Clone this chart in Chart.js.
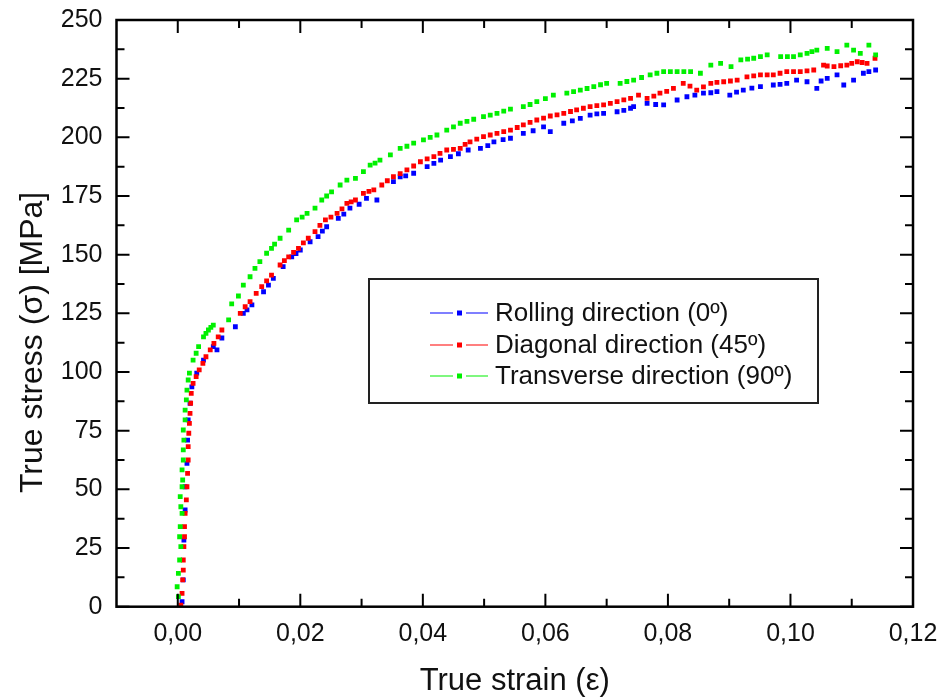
<!DOCTYPE html>
<html>
<head>
<meta charset="utf-8">
<script src="https://cdn.jsdelivr.net/npm/chart.js@4/dist/chart.umd.min.js"></script>
<style>
  body { margin: 0; background: #fff; }
</style>
</head>
<body>
<canvas id="myChart" width="942" height="700"></canvas>
<script>
// axis ticks
var xMajor = [0, 0.02, 0.04, 0.06, 0.08, 0.10, 0.12];
var xMinor = [0.01, 0.03, 0.05, 0.07, 0.09, 0.11];
var yMajor = [0, 25, 50, 75, 100, 125, 150, 175, 200, 225, 250];
var yMinor = [12.5, 37.5, 62.5, 87.5, 112.5, 137.5, 162.5, 187.5, 212.5, 237.5];

var seriesLabels = ['Rolling direction (0º)', 'Diagonal direction (45º)', 'Transverse direction (90º)'];
var seriesColors = ['#0000ff', '#ff0000', '#00f000'];

// [true strain, true stress MPa]
var rolling = [
  [0.0007, 2.1], [0.0009, 11.4], [0.0010, 28.4], [0.0012, 41.2], [0.0012, 51.1], [0.0015, 61.1],
  [0.0016, 71.0], [0.0017, 79.6], [0.0020, 86.7], [0.0023, 93.7], [0.0031, 99.5], [0.0042, 105.1],
  [0.0058, 110.8], [0.0064, 109.4], [0.0072, 114.5], [0.0094, 119.3], [0.0107, 125.0], [0.0121, 128.6],
  [0.0140, 134.2], [0.0156, 139.9], [0.0172, 144.9], [0.0186, 149.1], [0.0200, 152.0], [0.0216, 155.5],
  [0.0229, 157.7], [0.0243, 161.9], [0.0262, 165.5], [0.0281, 169.8], [0.0308, 174.0], [0.0325, 173.3],
  [0.0352, 181.1], [0.0363, 183.2], [0.0385, 184.7], [0.0407, 187.5], [0.0429, 190.3], [0.0445, 191.8],
  [0.0474, 194.6], [0.0494, 195.3], [0.0516, 198.1], [0.0543, 199.6], [0.0564, 201.7], [0.0597, 204.5],
  [0.0608, 202.4], [0.0630, 206.0], [0.0657, 208.1], [0.0673, 209.5], [0.0695, 210.2], [0.0717, 210.9],
  [0.0739, 212.4], [0.0744, 213.1], [0.0766, 214.5], [0.0793, 213.8], [0.0815, 215.9], [0.0831, 217.3],
  [0.0858, 218.8], [0.0880, 219.5], [0.0901, 218.0], [0.0923, 220.1], [0.0951, 221.6], [0.0972, 222.3],
  [0.0994, 223.0], [0.1010, 224.4], [0.1027, 223.7], [0.1043, 220.9], [0.1060, 225.1], [0.1076, 226.6],
  [0.1087, 222.3], [0.1103, 224.4], [0.1119, 227.3], [0.1139, 228.7],
  [0.0113, 126.5], [0.0148, 137.0], [0.0193, 150.5], [0.0236, 160.0], [0.0271, 167.3], [0.0296, 171.5],
  [0.0372, 183.6], [0.0418, 188.9], [0.0458, 193.0], [0.0506, 196.5], [0.0531, 199.0], [0.0580, 202.8],
  [0.0644, 207.0], [0.0684, 210.0], [0.0728, 211.5], [0.0780, 214.0], [0.0844, 218.0], [0.0870, 219.0],
  [0.0912, 219.3], [0.0937, 221.0], [0.0983, 222.6], [0.1050, 224.0], [0.1128, 228.0]
];

var diagonal = [
  [0.0005, 0.7], [0.0007, 5.7], [0.0008, 11.4], [0.0009, 15.6], [0.0009, 19.9], [0.0010, 25.6],
  [0.0011, 29.8], [0.0011, 34.1], [0.0012, 39.8], [0.0014, 45.5], [0.0015, 51.1], [0.0016, 56.8],
  [0.0017, 62.5], [0.0017, 68.2], [0.0018, 73.9], [0.0019, 78.1], [0.0020, 82.4], [0.0021, 86.7],
  [0.0022, 90.9], [0.0025, 95.2], [0.0030, 98.0], [0.0035, 100.9], [0.0041, 103.7], [0.0046, 106.5],
  [0.0053, 109.4], [0.0059, 112.2], [0.0066, 115.0], [0.0072, 117.9], [0.0102, 125.0], [0.0118, 130.0],
  [0.0137, 136.4], [0.0153, 141.3], [0.0167, 145.6], [0.0181, 149.1], [0.0197, 152.7], [0.0213, 157.0],
  [0.0224, 159.8], [0.0241, 164.8], [0.0260, 167.6], [0.0276, 171.9], [0.0290, 173.3], [0.0303, 176.1],
  [0.0320, 177.6], [0.0333, 179.7], [0.0352, 183.2], [0.0374, 186.1], [0.0396, 189.6], [0.0418, 191.8],
  [0.0439, 194.6], [0.0461, 195.3], [0.0477, 198.1], [0.0499, 200.3], [0.0521, 201.7], [0.0543, 203.1],
  [0.0564, 205.3], [0.0586, 207.4], [0.0608, 209.1], [0.0630, 210.2], [0.0651, 211.7], [0.0673, 213.1],
  [0.0695, 213.8], [0.0717, 215.2], [0.0739, 216.6], [0.0752, 218.0], [0.0766, 216.6], [0.0787, 218.8],
  [0.0809, 220.9], [0.0825, 223.0], [0.0847, 220.1], [0.0870, 223.0], [0.0891, 223.7], [0.0913, 224.4],
  [0.0929, 225.8], [0.0951, 226.6], [0.0972, 226.6], [0.0994, 228.0], [0.1016, 228.0], [0.1038, 228.7],
  [0.1054, 230.8], [0.1071, 230.1], [0.1092, 230.8], [0.1109, 232.2], [0.1125, 231.5], [0.1138, 233.7],
  [0.0110, 127.8], [0.0128, 133.5], [0.0145, 138.8], [0.0174, 147.5], [0.0189, 151.0], [0.0205, 155.0],
  [0.0232, 162.5], [0.0250, 166.0], [0.0268, 169.5], [0.0283, 172.5], [0.0312, 177.0], [0.0342, 181.5],
  [0.0363, 184.5], [0.0385, 187.8], [0.0407, 190.8], [0.0428, 193.2], [0.0450, 194.9], [0.0469, 197.0],
  [0.0488, 199.2], [0.0510, 201.0], [0.0532, 202.4], [0.0554, 204.2], [0.0575, 206.4], [0.0597, 208.2],
  [0.0619, 209.6], [0.0641, 211.0], [0.0662, 212.4], [0.0684, 213.5], [0.0706, 214.5], [0.0728, 216.0],
  [0.0777, 217.6], [0.0798, 219.6], [0.0836, 221.8], [0.0858, 221.5], [0.0880, 223.4], [0.0902, 224.0],
  [0.0940, 226.2], [0.0962, 226.6], [0.0983, 227.3], [0.1005, 228.0], [0.1027, 228.3], [0.1060, 230.4],
  [0.1082, 230.5], [0.1100, 231.5], [0.1117, 231.9]
];

var transverse = [
  [0.0001, 4.3], [-0.0001, 8.5], [0.0001, 14.2], [0.0003, 19.9], [0.0005, 25.6], [0.0003, 29.8],
  [0.0004, 34.1], [0.0007, 39.8], [0.0005, 42.6], [0.0004, 46.9], [0.0007, 51.1], [0.0008, 54.0],
  [0.0007, 58.3], [0.0009, 62.5], [0.0009, 66.8], [0.0010, 71.0], [0.0009, 75.3], [0.0012, 79.6],
  [0.0012, 83.8], [0.0014, 88.1], [0.0015, 92.3], [0.0017, 96.6], [0.0019, 99.5], [0.0025, 105.1],
  [0.0034, 110.8], [0.0042, 115.0], [0.0050, 117.9], [0.0058, 120.0], [0.0083, 122.2], [0.0088, 129.0],
  [0.0099, 132.4], [0.0107, 137.0], [0.0118, 140.6], [0.0126, 144.2], [0.0134, 147.0], [0.0145, 150.6],
  [0.0153, 152.7], [0.0167, 157.0], [0.0181, 160.5], [0.0194, 164.8], [0.0211, 167.6], [0.0224, 169.8],
  [0.0235, 173.3], [0.0251, 176.8], [0.0265, 179.7], [0.0276, 181.8], [0.0290, 182.5], [0.0303, 185.4],
  [0.0314, 188.2], [0.0330, 190.3], [0.0347, 192.5], [0.0363, 195.3], [0.0385, 197.5], [0.0401, 198.9],
  [0.0423, 201.0], [0.0439, 203.1], [0.0461, 206.0], [0.0483, 207.7], [0.0499, 208.8], [0.0521, 210.2],
  [0.0543, 212.0], [0.0564, 213.1], [0.0586, 215.2], [0.0613, 218.0], [0.0635, 218.8], [0.0657, 220.1],
  [0.0679, 221.6], [0.0700, 223.0], [0.0722, 223.0], [0.0744, 224.4], [0.0771, 226.6], [0.0793, 228.0],
  [0.0815, 228.0], [0.0837, 228.0], [0.0853, 227.3], [0.0870, 230.8], [0.0886, 231.5], [0.0903, 230.1],
  [0.0919, 233.0], [0.0940, 233.7], [0.0962, 235.1], [0.0984, 234.4], [0.1005, 234.4], [0.1027, 235.8],
  [0.1043, 237.2], [0.1060, 237.9], [0.1076, 236.5], [0.1092, 239.3], [0.1103, 237.2], [0.1114, 235.8],
  [0.1128, 239.3], [0.1139, 235.1],
  [0.0030, 108.0], [0.0046, 116.5], [0.0054, 119.0], [0.0158, 154.5], [0.0203, 166.0], [0.0243, 175.0],
  [0.0322, 189.0], [0.0374, 196.2], [0.0412, 200.0], [0.0450, 204.5], [0.0472, 206.8], [0.0510, 209.5],
  [0.0532, 211.2], [0.0575, 214.0], [0.0600, 216.5], [0.0646, 219.5], [0.0668, 220.8], [0.0690, 222.4],
  [0.0733, 223.8], [0.0757, 225.5], [0.0782, 227.3], [0.0804, 228.0], [0.0826, 228.0], [0.0930, 233.3],
  [0.0951, 234.4], [0.0995, 234.4], [0.1016, 235.1], [0.1035, 236.5]
];

var fontFam = '"Liberation Sans", Arial, Helvetica, sans-serif';

function toPoints(arr) {
  return arr.map(function (p) { return { x: p[0], y: p[1] }; });
}

function makeSet(i, arr, order) {
  return {
    label: seriesLabels[i],
    data: toPoints(arr),
    backgroundColor: seriesColors[i],
    borderColor: seriesColors[i],
    borderWidth: 0,
    pointStyle: 'rect',
    pointRadius: 3.4,
    showLine: false,
    order: order
  };
}

// frame, inward ticks, legend box and axis titles
var framePlugin = {
  id: 'framePlugin',
  afterDraw: function (chart) {
    var ctx = chart.ctx, a = chart.chartArea, x = chart.scales.x, y = chart.scales.y;
    ctx.save();
    ctx.strokeStyle = '#000';
    ctx.lineWidth = 2;
    ctx.beginPath();
    function xt(list, len) {
      list.forEach(function (v) {
        var px = x.getPixelForValue(v);
        ctx.moveTo(px, a.bottom); ctx.lineTo(px, a.bottom - len);
        ctx.moveTo(px, a.top); ctx.lineTo(px, a.top + len);
      });
    }
    function yt(list, len) {
      list.forEach(function (v) {
        var py = y.getPixelForValue(v);
        ctx.moveTo(a.left, py); ctx.lineTo(a.left + len, py);
        ctx.moveTo(a.right, py); ctx.lineTo(a.right - len, py);
      });
    }
    xt(xMajor, 13); xt(xMinor, 8);
    yt(yMajor, 13); yt(yMinor, 8);
    ctx.stroke();
    ctx.lineWidth = 2.5;
    ctx.strokeRect(a.left, a.top, a.right - a.left, a.bottom - a.top);

    // legend
    ctx.lineWidth = 2;
    ctx.strokeStyle = '#222';
    ctx.strokeRect(369, 279, 449, 124);
    var rows = [313, 345, 376];
    ctx.font = '26px ' + fontFam;
    ctx.textBaseline = 'middle';
    ctx.textAlign = 'left';
    rows.forEach(function (ry, i) {
      ctx.strokeStyle = seriesColors[i];
      ctx.lineWidth = 1.2;
      ctx.beginPath();
      ctx.moveTo(430, ry); ctx.lineTo(453, ry);
      ctx.moveTo(466, ry); ctx.lineTo(488, ry);
      ctx.stroke();
      ctx.fillStyle = seriesColors[i];
      ctx.fillRect(457, ry - 2.5, 5, 5);
      ctx.fillStyle = '#111';
      ctx.fillText(seriesLabels[i], 495, ry + 1);
    });

    // axis titles
    ctx.fillStyle = '#111';
    ctx.font = '31px ' + fontFam;
    ctx.textBaseline = 'alphabetic';
    ctx.textAlign = 'center';
    ctx.fillText('True strain (ε)', (a.left + a.right) / 2, 690);
    ctx.font = '32px ' + fontFam;
    ctx.translate(42, 493);
    ctx.rotate(-Math.PI / 2);
    ctx.textAlign = 'left';
    ctx.fillText('True stress (σ) [MPa]', 0, 0);
    ctx.restore();
  }
};

var ctx = document.getElementById('myChart').getContext('2d');
var chart = new Chart(ctx, {
  type: 'scatter',
  data: {
    datasets: [
      makeSet(0, rolling, 3),
      makeSet(1, diagonal, 2),
      makeSet(2, transverse, 1)
    ]
  },
  options: {
    responsive: false,
    animation: false,
    layout: { padding: { top: 20, right: 29, left: 0, bottom: 0 } },
    plugins: {
      legend: { display: false },
      tooltip: { enabled: false }
    },
    scales: {
      x: {
        type: 'linear',
        min: -0.01,
        max: 0.12,
        afterBuildTicks: function (s) { s.ticks = xMajor.map(function (v) { return { value: v }; }); },
        afterFit: function (s) { s.height = 93.3; s.paddingLeft = 0; s.paddingRight = 0; },
        grid: { display: false, drawTicks: false },
        border: { display: false },
        ticks: {
          autoSkip: false,
          maxRotation: 0,
          padding: 12,
          color: '#111',
          font: { family: fontFam, size: 25 },
          callback: function (v) { return v.toFixed(2).replace('.', ','); }
        }
      },
      y: {
        type: 'linear',
        min: 0,
        max: 250,
        afterBuildTicks: function (s) { s.ticks = yMajor.map(function (v) { return { value: v }; }); },
        afterFit: function (s) { s.width = 116.5; s.paddingTop = 0; s.paddingBottom = 0; },
        grid: { display: false, drawTicks: false },
        border: { display: false },
        ticks: {
          autoSkip: false,
          padding: 14,
          color: '#111',
          font: { family: fontFam, size: 25 }
        }
      }
    }
  },
  plugins: [framePlugin]
});
</script>
</body>
</html>
